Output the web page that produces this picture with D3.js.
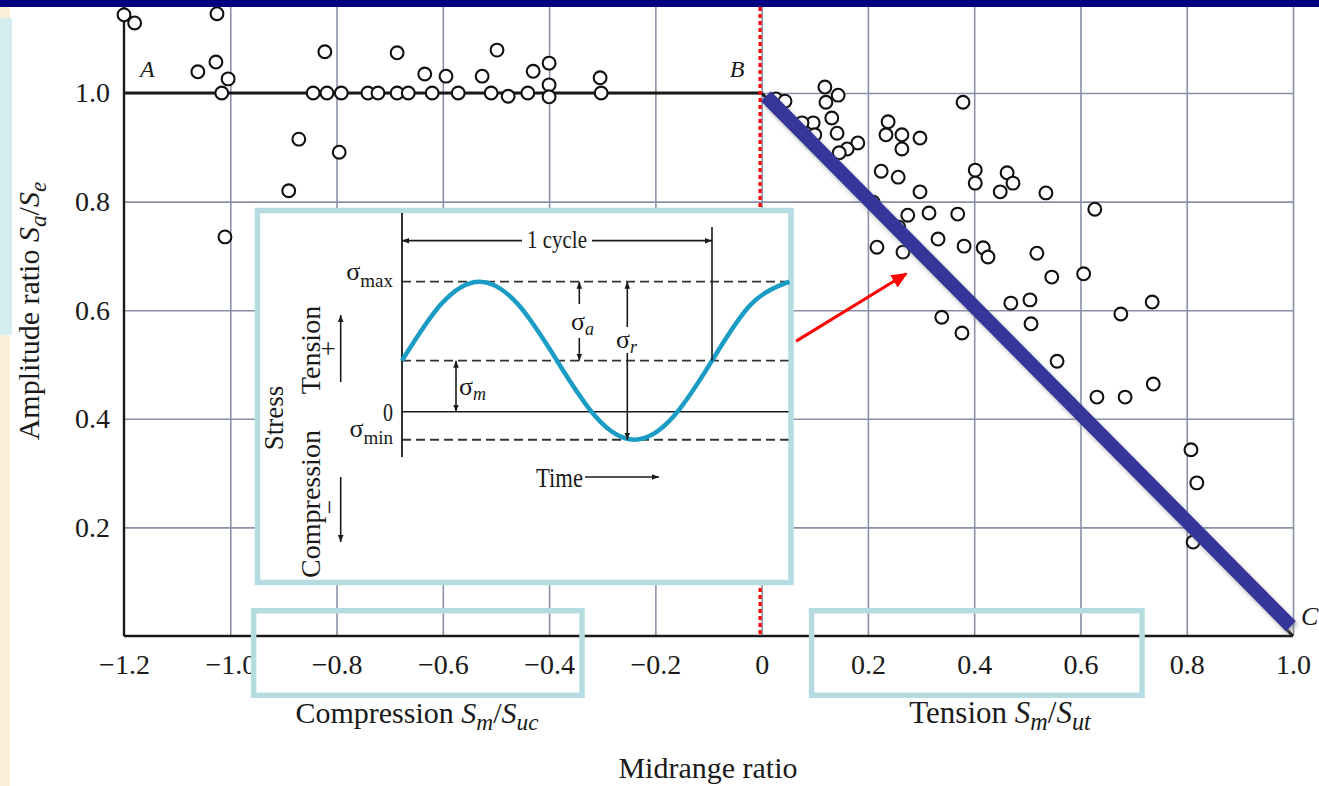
<!DOCTYPE html>
<html>
	<head>
		<meta charset="utf-8">
		<style type="text/css">
			body { margin: 0; background: white; }
			svg  { display: block; font-family: "Liberation Serif", "DejaVu Serif", serif; }
		</style>
		<title>Amplitude ratio vs midrange ratio</title>
	</head>
	<body>
		<script src="https://cdn.jsdelivr.net/npm/d3@7"></script>
		<script>

// ticks ////////////////////////////////////////////////////////////////////

var xTicks  = [-1.2, -1.0, -0.8, -0.6, -0.4, -0.2, 0, 0.2, 0.4, 0.6, 0.8, 1.0];
var xLabels = ['−1.2', '−1.0', '−0.8', '−0.6', '−0.4', '−0.2', '0', '0.2', '0.4', '0.6', '0.8', '1.0'];
var yTicks  = [0.2, 0.4, 0.6, 0.8, 1.0];
var yLabels = ['0.2', '0.4', '0.6', '0.8', '1.0'];

// test points: [midrange ratio, amplitude ratio]
var compression = [
	[-1.20, 1.144], [-1.18, 1.129], [-1.025, 1.146], [-1.061, 1.039], [-1.027, 1.057],
	[-1.004, 1.026], [-1.016, 1.0], [-0.822, 1.076], [-0.686, 1.074], [-0.634, 1.035],
	[-0.844, 1.0], [-0.818, 1.0], [-0.791, 1.0], [-0.741, 1.0], [-0.722, 1.0],
	[-0.686, 1.0], [-0.665, 1.0], [-0.620, 1.0], [-0.871, 0.915], [-0.795, 0.891],
	[-0.890, 0.820], [-1.010, 0.735], [-0.594, 1.031], [-0.571, 1.0], [-0.498, 1.079],
	[-0.526, 1.031], [-0.509, 1.0], [-0.477, 0.994], [-0.440, 1.0], [-0.430, 1.040],
	[-0.400, 1.055], [-0.400, 1.015], [-0.400, 0.993], [-0.304, 1.028], [-0.302, 1.0],
];
var tension = [
	[0.027, 0.989], [0.044, 0.985], [0.119, 1.011], [0.144, 0.996], [0.121, 0.983],
	[0.132, 0.954], [0.142, 0.926], [0.097, 0.945], [0.100, 0.923], [0.076, 0.945],
	[0.181, 0.908], [0.161, 0.897], [0.146, 0.890], [0.238, 0.947], [0.234, 0.923],
	[0.264, 0.923], [0.298, 0.917], [0.264, 0.897], [0.225, 0.856], [0.257, 0.845],
	[0.298, 0.818], [0.379, 0.983], [0.402, 0.858], [0.402, 0.834], [0.462, 0.853],
	[0.473, 0.834], [0.449, 0.818], [0.535, 0.816], [0.627, 0.786], [0.210, 0.799],
	[0.275, 0.775], [0.315, 0.779], [0.369, 0.777], [0.258, 0.753], [0.217, 0.716],
	[0.266, 0.707], [0.332, 0.731], [0.381, 0.718], [0.417, 0.715], [0.426, 0.698],
	[0.518, 0.705], [0.546, 0.661], [0.606, 0.667], [0.469, 0.613], [0.505, 0.619],
	[0.339, 0.587], [0.377, 0.558], [0.507, 0.575], [0.676, 0.593], [0.735, 0.615],
	[0.556, 0.506], [0.631, 0.440], [0.684, 0.440], [0.737, 0.464], [0.808, 0.343],
	[0.819, 0.282], [0.812, 0.173],
];

// failure lines
var lineAB = [[-1.2, 1.0], [0, 1.0]];
var lineBC = [[0, 1.0], [1.0, 0]];
var fitBC  = [[0.008, 0.994], [0.996, 0.018]];
var arrowToLine = [[0.065, 0.543], [0.272, 0.667]];

// inset: stress vs time (time in cycles, stress in units of sigma_m)
var wave = [
	[0, 1.0], [0.125, 2.1], [0.25, 2.55], [0.375, 2.1], [0.5, 1.0], [0.625, -0.1],
	[0.75, -0.55], [0.875, -0.1], [1.0, 1.0], [1.125, 2.1], [1.25, 2.55],
];
var sMax = 2.55, sMean = 1.0, sMin = -0.55;


// layout ///////////////////////////////////////////////////////////////////

var W = 1319, H = 786, TOP = 7;
var gridColor = '#8a91a8';
var ink = '#1a1a1a';

var svg = d3.select('body').append('svg')
	.attr('width', W)
	.attr('height', H);

var x = d3.scaleLinear().domain([-1.2, 1.0]).range([124, 1293]);
var y = d3.scaleLinear().domain([0, 1.0]).range([636, 93]);

var [x0, x1] = x.range();
var [y0, y1] = y.range();

var defs = svg.append('defs');
defs.append('marker')
	.attr('id', 'tip')
	.attr('viewBox', '0 -5 10 10')
	.attr('refX', 10).attr('refY', 0)
	.attr('markerUnits', 'userSpaceOnUse')
	.attr('markerWidth', 7).attr('markerHeight', 7)
	.attr('orient', 'auto')
	.append('path').attr('d', 'M0,-4L10,0L0,4Z').attr('fill', ink);
defs.append('marker')
	.attr('id', 'redtip')
	.attr('viewBox', '0 -5 10 10')
	.attr('refX', 9).attr('refY', 0)
	.attr('markerUnits', 'userSpaceOnUse')
	.attr('markerWidth', 16).attr('markerHeight', 16)
	.attr('orient', 'auto')
	.append('path').attr('d', 'M0,-4.5L10,0L0,4.5Z').attr('fill', '#ff0000');
defs.append('filter')
	.attr('id', 'blur')
	.append('feGaussianBlur').attr('stdDeviation', 2);

// slide frame: left strip
svg.append('rect')
	.attr('x', 0).attr('y', TOP).attr('width', 10).attr('height', H - TOP)
	.attr('fill', '#fbeed8');
svg.append('rect')
	.attr('x', 0).attr('y', 18).attr('width', 12).attr('height', 317)
	.attr('fill', '#d5edf1');


// grid /////////////////////////////////////////////////////////////////////

svg.append('g')
	.attr('transform', `translate(0,${y0})`)
	.call(d3.axisBottom(x).tickValues(xTicks.slice(1)).tickSize(-(y0 - TOP)).tickFormat(''))
	.call(g => g.select('.domain').remove())
	.call(g => g.selectAll('.tick line')
		.attr('stroke', gridColor)
		.attr('stroke-width', 1.6));

svg.append('g')
	.attr('transform', `translate(${x0},0)`)
	.call(d3.axisLeft(y).tickValues(yTicks).tickSize(-(x1 - x0)).tickFormat(''))
	.call(g => g.select('.domain').remove())
	.call(g => g.selectAll('.tick line')
		.attr('stroke', gridColor)
		.attr('stroke-width', 1.6));


// axes /////////////////////////////////////////////////////////////////////

svg.append('g')
	.attr('transform', `translate(0,${y0})`)
	.call(d3.axisBottom(x).tickValues(xTicks).tickFormat((d, i) => xLabels[i]).tickSize(0).tickPadding(18))
	.call(g => g.select('.domain').remove())
	.attr('font-family', 'Liberation Serif')
	.attr('font-size', 28)
	.call(g => g.selectAll('text').attr('fill', ink));

svg.append('g')
	.attr('transform', `translate(${x0},0)`)
	.call(d3.axisLeft(y).tickValues(yTicks).tickFormat((d, i) => yLabels[i]).tickSize(0).tickPadding(14))
	.call(g => g.select('.domain').remove())
	.attr('font-family', 'Liberation Serif')
	.attr('font-size', 28)
	.call(g => g.selectAll('text').attr('fill', ink));

svg.append('line')
	.attr('x1', x0).attr('x2', x1).attr('y1', y0).attr('y2', y0)
	.attr('stroke', ink).attr('stroke-width', 2.6);
svg.append('line')
	.attr('x1', x0).attr('x2', x0).attr('y1', TOP).attr('y2', y0)
	.attr('stroke', ink).attr('stroke-width', 2.4);

// axis titles, S_a/S_e style ratios
function ratio(text, sub1, sub2, size) {
	var d = size * 0.22;
	text.append('tspan').attr('font-style', 'italic').text('S');
	text.append('tspan').attr('font-style', 'italic').attr('font-size', size * 0.78).attr('dy', d).text(sub1);
	text.append('tspan').attr('dy', -d).text('/');
	text.append('tspan').attr('font-style', 'italic').text('S');
	text.append('tspan').attr('font-style', 'italic').attr('font-size', size * 0.78).attr('dy', d).text(sub2);
}

var yTitle = svg.append('text')
	.attr('transform', 'translate(39,311) rotate(-90)')
	.attr('text-anchor', 'middle')
	.attr('font-size', 30).attr('fill', ink);
yTitle.append('tspan').text('Amplitude ratio ');
ratio(yTitle, 'a', 'e', 30);

var cTitle = svg.append('text')
	.attr('x', 417).attr('y', 723)
	.attr('text-anchor', 'middle')
	.attr('font-size', 30).attr('fill', ink);
cTitle.append('tspan').text('Compression ');
ratio(cTitle, 'm', 'uc', 30);

var tTitle = svg.append('text')
	.attr('x', 1000).attr('y', 723)
	.attr('text-anchor', 'middle')
	.attr('font-size', 31).attr('fill', ink);
tTitle.append('tspan').text('Tension ');
ratio(tTitle, 'm', 'ut', 31);

svg.append('text')
	.attr('x', 708).attr('y', 778)
	.attr('text-anchor', 'middle')
	.attr('font-size', 30).attr('fill', ink)
	.text('Midrange ratio');


// failure lines and points /////////////////////////////////////////////////

var line = d3.line().x(d => x(d[0])).y(d => y(d[1]));

svg.append('path')
	.attr('d', line(lineAB))
	.attr('fill', 'none').attr('stroke', ink).attr('stroke-width', 3.2);

svg.append('g')
	.selectAll('circle')
	.data(compression.concat(tension))
	.join('circle')
		.attr('cx', d => x(d[0]))
		.attr('cy', d => y(d[1]))
		.attr('r', 6.4)
		.attr('fill', 'white')
		.attr('stroke', '#111')
		.attr('stroke-width', 2.1);

svg.append('path')
	.attr('d', line(lineBC))
	.attr('fill', 'none').attr('stroke', ink).attr('stroke-width', 3);

svg.append('path')
	.attr('d', line(fitBC))
	.attr('transform', 'translate(2,3)')
	.attr('filter', 'url(#blur)')
	.attr('fill', 'none').attr('stroke', '#777').attr('stroke-opacity', 0.55).attr('stroke-width', 14);
svg.append('path')
	.attr('d', line(fitBC))
	.attr('fill', 'none').attr('stroke', '#35359a').attr('stroke-width', 14);

// point labels
[['A', -1.2, 1.0, 16, -16, 24], ['B', 0, 1.0, -32, -16, 24], ['C', 1.0, 0, 8, -11, 26]].forEach(([t, a, b, dx, dy, fs]) => {
	svg.append('text')
		.attr('x', x(a) + dx).attr('y', y(b) + dy)
		.attr('font-style', 'italic')
		.attr('font-size', fs)
		.attr('fill', ink)
		.text(t);
});

// x = 0 marker
svg.append('line')
	.attr('x1', x(0) - 1.5).attr('x2', x(0) - 1.5)
	.attr('y1', TOP).attr('y2', y0)
	.attr('stroke', '#ff0000').attr('stroke-width', 3.2)
	.attr('stroke-dasharray', '4,3');

svg.append('path')
	.attr('d', line(arrowToLine))
	.attr('stroke', '#ff0000').attr('stroke-width', 3)
	.attr('marker-end', 'url(#redtip)');


// inset: stress cycle //////////////////////////////////////////////////////

var inset = svg.append('g');
inset.append('rect')
	.attr('x', 257.5).attr('y', 210.5)
	.attr('width', 533.5).attr('height', 372)
	.attr('fill', 'white')
	.attr('stroke', '#b5dde1').attr('stroke-width', 5.5);

var tx = d3.scaleLinear().domain([0, 1]).range([402, 712]);
var sy = d3.scaleLinear().domain([0, 1]).range([411.7, 360.7]);
var tEnd = 788.5;

function seg(xa, ya, xb, yb, w, arrow) {
	var l = inset.append('line')
		.attr('x1', xa).attr('y1', ya).attr('x2', xb).attr('y2', yb)
		.attr('stroke', ink).attr('stroke-width', w);
	if(arrow) l.attr('marker-end', 'url(#tip)');
	return l;
}

// levels
[sMax, sMean, sMin].forEach(s => {
	seg(tx(0), sy(s), tEnd, sy(s), 1.8).attr('stroke-dasharray', '9,5').attr('stroke', '#333');
});
seg(tx(0), sy(0), tEnd, sy(0), 1.6);
seg(tx(0), 213, tx(0), 457, 1.8);

// wave
inset.append('path')
	.attr('d', d3.line().x(d => tx(d[0])).y(d => sy(d[1])).curve(d3.curveNatural)(wave))
	.attr('fill', 'none')
	.attr('stroke', '#1b9cc5')
	.attr('stroke-width', 4.5);

// one cycle
seg(tx(1), 227, tx(1), sy(sMean), 1.6);
seg(522, 240.7, tx(0), 240.7, 1.8, true);
seg(592, 240.7, tx(1), 240.7, 1.8, true);
inset.append('text')
	.attr('x', 527).attr('y', 248)
	.attr('font-size', 25).attr('fill', ink)
	.attr('textLength', 60).attr('lengthAdjust', 'spacingAndGlyphs')
	.text('1 cycle');

// amplitude, range, midrange dimensions
var xa = 579.3, xr = 627.3, xm = 456;
seg(xa, 304, xa, sy(sMax), 1.6, true);
seg(xa, 338, xa, sy(sMean), 1.6, true);
seg(xr, 327, xr, sy(sMax), 1.6, true);
seg(xr, 353, xr, sy(sMin), 1.6, true);
seg(xm, 386, xm, sy(sMean), 1.6, true);
seg(xm, 386, xm, sy(0), 1.6, true);

function sigma(px, py, sub, italic, anchor) {
	var t = inset.append('text')
		.attr('x', px).attr('y', py)
		.attr('text-anchor', anchor || 'start')
		.attr('font-size', 26).attr('fill', ink);
	t.append('tspan').text('σ');
	t.append('tspan')
		.attr('font-size', italic ? 18 : 19)
		.attr('font-style', italic ? 'italic' : 'normal')
		.attr('dy', italic ? 5 : 7)
		.text(sub);
	return t;
}
sigma(393, 280, 'max', false, 'end');
sigma(393, 437, 'min', false, 'end');
sigma(571, 330, 'a', true);
sigma(616, 348, 'r', true);
sigma(459, 395, 'm', true);
inset.append('text')
	.attr('x', 393).attr('y', 421)
	.attr('text-anchor', 'end')
	.attr('font-size', 25).attr('fill', ink)
	.attr('textLength', 10).attr('lengthAdjust', 'spacingAndGlyphs')
	.text('0');

// stress direction labels
[['Stress', 283, 418, 27], ['Tension', 320, 350, 28], ['Compression', 320, 504, 28], ['−', 338, 507, 26]].forEach(([t, px, py, fs]) => {
	inset.append('text')
		.attr('transform', `translate(${px},${py}) rotate(-90)`)
		.attr('text-anchor', 'middle')
		.attr('font-size', fs).attr('fill', ink)
		.text(t);
});
inset.append('text')
	.attr('x', 328).attr('y', 358)
	.attr('text-anchor', 'middle')
	.attr('font-size', 27).attr('fill', ink)
	.text('+');
seg(340.7, 382, 340.7, 315, 1.6, true);
seg(340.7, 477, 340.7, 542, 1.6, true);

// time
inset.append('text')
	.attr('x', 536).attr('y', 487)
	.attr('font-size', 28).attr('fill', ink)
	.attr('textLength', 47).attr('lengthAdjust', 'spacingAndGlyphs')
	.text('Time');
seg(585, 477, 659, 477, 1.6, true);


// highlight boxes around tick labels ///////////////////////////////////////

[[-0.956, -0.338], [0.094, 0.716]].forEach(([a, b]) => {
	svg.append('rect')
		.attr('x', x(a)).attr('y', 610.75)
		.attr('width', x(b) - x(a)).attr('height', 84.5)
		.attr('fill', 'none')
		.attr('stroke', '#b5dde1').attr('stroke-width', 5.5);
});

// slide banner
svg.append('rect')
	.attr('x', 0).attr('y', 0).attr('width', W).attr('height', TOP)
	.attr('fill', '#000080');

		</script>
	</body>
</html>
